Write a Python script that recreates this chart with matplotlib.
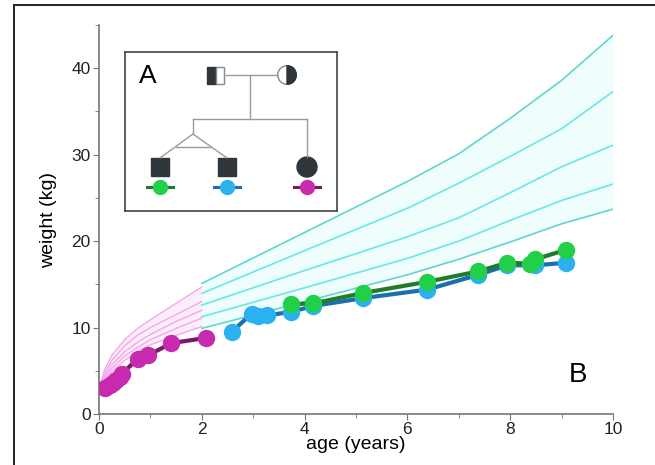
import matplotlib
matplotlib.use('Agg')
import matplotlib.pyplot as plt
from matplotlib.patches import Rectangle, Circle, Wedge
from matplotlib.lines import Line2D

plt.rcParams['font.family'] = ['Liberation Sans', 'DejaVu Sans']

# reference curves 0-2 years (pink), percentile lines top to bottom
infant_age = [0.05, 0.1, 0.25, 0.5, 0.75, 1.0, 1.5, 2.0]
infant_curves = [
    [3.9, 5.0, 6.8, 8.6, 9.9, 10.9, 12.8, 14.7],
    [3.6, 4.6, 6.2, 7.9, 9.1, 10.0, 11.5, 13.0],
    [3.4, 4.3, 5.7, 7.2, 8.3, 9.2, 10.7, 12.0],
    [3.2, 4.0, 5.3, 6.7, 7.7, 8.6, 9.9, 11.1],
    [3.0, 3.7, 4.9, 6.2, 7.2, 8.0, 9.1, 10.1],
]

# reference curves 2-10 years (cyan)
child_age = [2, 4, 6, 7, 8, 9, 10]
child_curves = [
    [15.1, 21.0, 26.9, 30.1, 34.2, 38.6, 43.8],
    [13.95, 18.9, 23.8, 26.7, 29.8, 33.0, 37.3],
    [12.6, 16.6, 20.5, 22.7, 25.6, 28.6, 31.1],
    [11.25, 14.6, 18.0, 20.0, 22.4, 24.7, 26.6],
    [9.9, 13.0, 16.1, 17.9, 19.9, 22.0, 23.7],
]

# patient measurements
girl_age = [0.12, 0.21, 0.28, 0.34, 0.41, 0.44, 0.75, 0.96, 1.41, 2.08]
girl_weight = [3.0, 3.35, 3.6, 3.9, 4.3, 4.6, 6.4, 6.8, 8.2, 8.8]

twin_blue_age = [2.58, 2.97, 3.10, 3.26, 3.73, 4.17, 5.14, 6.39, 7.38, 7.94, 8.49, 9.09]
twin_blue_weight = [9.5, 11.6, 11.3, 11.4, 11.8, 12.5, 13.4, 14.4, 16.1, 17.2, 17.2, 17.5]

twin_green_age = [3.73, 4.17, 5.14, 6.39, 7.38, 7.94, 8.38, 8.49, 9.09]
twin_green_weight = [12.7, 12.8, 14.0, 15.3, 16.5, 17.5, 17.4, 17.9, 19.0]

fig = plt.figure(figsize=(6.55, 4.65), dpi=100)
ax = fig.add_axes([99 / 655, 51 / 465, 514 / 655, 389 / 465])

# shaded reference bands
ax.fill_between(infant_age, infant_curves[-1], infant_curves[0], color='#fcedfa', lw=0)
ax.fill_between(child_age, child_curves[-1], child_curves[0], color='#effdfd', lw=0)
for c in infant_curves:
    ax.plot(infant_age, c, color='#f5a8e8', lw=1.0)
for i, c in enumerate(child_curves):
    col = '#5fd6d0' if i in (0, 4) else '#6ae8e2'
    ax.plot(child_age, c, color=col, lw=1.2)

# patient growth lines
ax.plot(girl_age, girl_weight, color='#7a1866', lw=3, marker='o', ms=11.5,
        mfc='#c82aae', mec='#c82aae', zorder=5)
ax.plot(twin_blue_age, twin_blue_weight, color='#1a6fae', lw=3, marker='o', ms=11.5,
        mfc='#2cb1f0', mec='#2cb1f0', zorder=5)
ax.plot(twin_green_age, twin_green_weight, color='#1e7d2a', lw=3, marker='o', ms=11.5,
        mfc='#22cf48', mec='#22cf48', zorder=6)

# axes styling
ax.set_xlim(0, 10)
ax.set_ylim(0, 45)
ax.spines['top'].set_visible(False)
ax.spines['right'].set_visible(False)
for s in ['left', 'bottom']:
    ax.spines[s].set_color('#777777')
    ax.spines[s].set_linewidth(1.2)
ax.set_xticks([0, 2, 4, 6, 8, 10])
ax.set_xticks([1, 3, 5, 7, 9], minor=True)
ax.set_yticks([0, 10, 20, 30, 40])
ax.set_yticks([5, 15, 25, 35, 45], minor=True)
ax.tick_params(which='both', color='#777777', labelsize=12.5, labelcolor='#222222', pad=2)
ax.tick_params(which='major', length=4)
ax.tick_params(which='minor', length=3)
ax.set_xlabel('age (years)', fontsize=14, labelpad=-1)
ax.set_ylabel('weight (kg)', fontsize=14, labelpad=10)
ax.text(9.32, 4.5, 'B', fontsize=20, ha='center', va='center')

# inset pedigree (A)
ins = fig.add_axes([125 / 655, 1 - 211 / 465, 212 / 655, 159 / 465])
ins.set_xlim(0, 212)
ins.set_ylim(159, 0)
ins.set_xticks([])
ins.set_yticks([])
for s in ins.spines.values():
    s.set_color('#444444')
    s.set_linewidth(1.2)
dark = '#2f3538'
grey = '#9a9a9a'
ins.text(23, 24, 'A', fontsize=19, ha='center', va='center')

# connecting lines
ins.plot([99, 152], [23, 23], color=grey, lw=1)
ins.plot([125, 125], [23, 67], color=grey, lw=1)
ins.plot([68, 182], [67, 67], color=grey, lw=1)
ins.plot([68, 68], [67, 82], color=grey, lw=1)
ins.plot([68, 35], [82, 106], color=grey, lw=1)
ins.plot([68, 102], [82, 106], color=grey, lw=1)
ins.plot([51, 86], [95, 95], color=grey, lw=1)
ins.plot([182, 182], [67, 105], color=grey, lw=1)

# parents
ins.add_patch(Rectangle((82, 15), 8.5, 17, fc=dark, ec=dark, lw=1))
ins.add_patch(Rectangle((90.5, 15), 8.5, 17, fc='white', ec='#888888', lw=1))
ins.add_patch(Circle((162, 23), 9.3, fc='white', ec='#888888', lw=1))
ins.add_patch(Wedge((162, 23), 9.3, -90, 90, fc=dark, ec=dark, lw=1))

# children
ins.add_patch(Rectangle((26, 106), 18, 18, fc=dark, ec=dark))
ins.add_patch(Rectangle((93, 106), 18, 18, fc=dark, ec=dark))
ins.add_patch(Circle((182, 115), 10, fc=dark, ec=dark))

# colour keys under the children
for cx, lc, mc in [(35, '#1e7d2a', '#22cf48'), (102, '#1a6fae', '#2cb1f0'),
                   (182, '#7a1866', '#c82aae')]:
    ins.plot([cx - 13, cx + 13], [135, 135], color=lc, lw=2.2)
    ins.plot([cx], [135], marker='o', ms=10, mfc=mc, mec=mc)

# outer frame
fig.add_artist(Line2D([14 / 655, 14 / 655], [0, 1 - 5 / 465], color='#222222', lw=1.4))
fig.add_artist(Line2D([14 / 655, 1], [1 - 5 / 465, 1 - 5 / 465], color='#222222', lw=1.4))

plt.savefig('out.png', dpi=100)
